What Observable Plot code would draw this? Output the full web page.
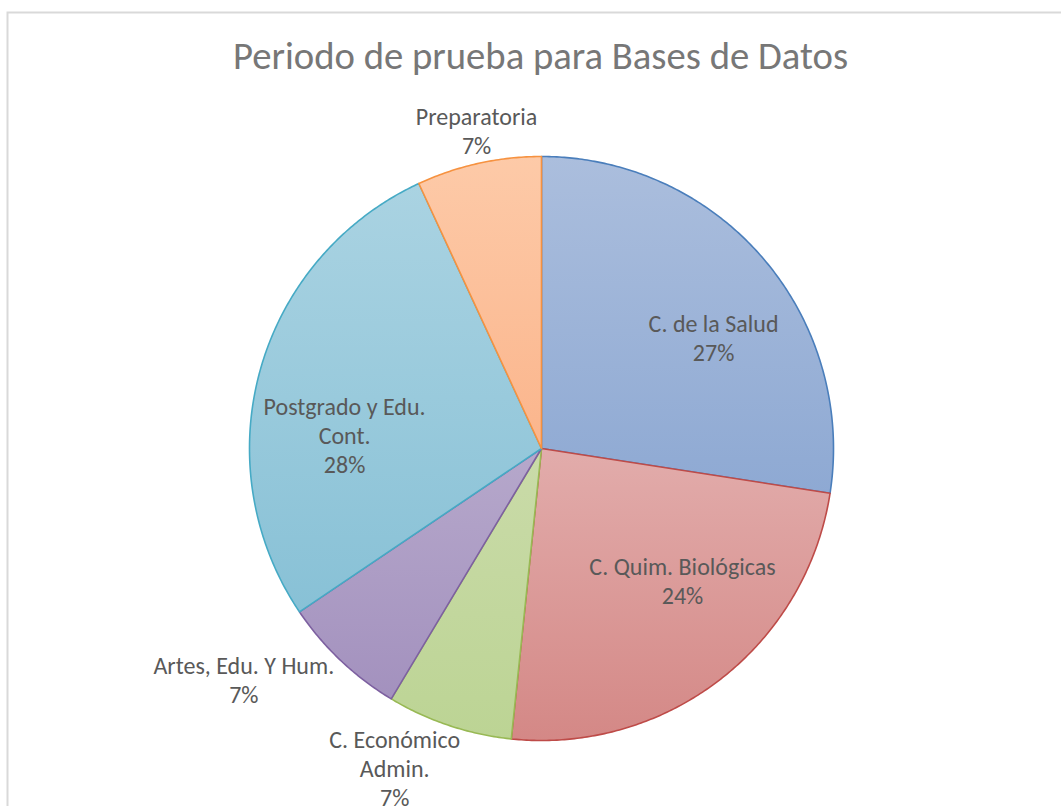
<!DOCTYPE html>
<html>
<head>
<meta charset="utf-8">
<script src="https://cdn.jsdelivr.net/npm/d3@7"></script>
<script src="https://cdn.jsdelivr.net/npm/@observablehq/plot@0.6"></script>
<style>
  html, body { margin: 0; padding: 0; background: #fff; overflow: hidden; }
  #chart { width: 1061px; height: 806px; overflow: hidden; }
  #chart svg { display: block; }
</style>
</head>
<body>
<div id="chart"></div>
<script>
// ---- data ----
const title = "Periodo de prueba para Bases de Datos";
const categories = ["C. de la Salud", "C. Quim. Biológicas", "C. Económico Admin.", "Artes, Edu. Y Hum.", "Postgrado y Edu. Cont.", "Preparatoria"];
const values = [27.45, 24.2, 6.95, 6.95, 27.55, 6.9];
const labelLines = ["C. de la Salud", "C. Quim. Biológicas", "C. Económico\nAdmin.", "Artes, Edu. Y Hum.", "Postgrado y Edu.\nCont.", "Preparatoria"];

// ---- styles / layout ----
const strokeColors = ["#4a7ebb", "#be4b48", "#98b954", "#7d60a0", "#46aac5", "#f69240"];
const gradTop = ["#abbedd", "#e2acab", "#cadba9", "#b6a8cb", "#aad3e2", "#fdcaa8"];
const gradBottom = ["#8ea9d3", "#d48886", "#bcd494", "#a391be", "#88c1d6", "#fbb58c"];
// label placement: [angle shift from slice mid-angle (deg), radius factor]
const labelPlacement = [[7.8, 0.701], [-9.3, 0.661], [6.25, 1.203], [8.8, 1.289], [-11.5, 0.676], [0.9, 1.113]];

const W = 1061, H = 806, cx = 541, cy = 448, R = 292;
const font = "Carlito, Calibri, Lato, sans-serif";

const total = d3.sum(values);
let acc = 0;
const slices = values.map((v, i) => {
  const a0 = acc / total * 2 * Math.PI;
  acc += v;
  const a1 = acc / total * 2 * Math.PI;
  return {i, category: categories[i], value: v, a0, a1, mid: (a0 + a1) / 2};
});

function slicePoints(s) {
  const n = Math.max(2, Math.ceil((s.a1 - s.a0) / (Math.PI / 360)));
  const pts = [{x: 0, y: 0}];
  for (let k = 0; k <= n; k++) {
    const a = s.a0 + (s.a1 - s.a0) * k / n;
    pts.push({x: Math.sin(a), y: Math.cos(a)});
  }
  return pts;
}

const fmt = d3.format(".0%");
const labels = slices.map(s => {
  const [shift, rf] = labelPlacement[s.i];
  const a = s.mid + shift * Math.PI / 180;
  return {x: rf * Math.sin(a), y: rf * Math.cos(a), text: labelLines[s.i] + "\n" + fmt(s.value / total)};
});

const plot = Plot.plot({
  width: W,
  height: H,
  margin: 0,
  x: {domain: [-cx / R, (W - cx) / R], axis: null},
  y: {domain: [(cy - H) / R, cy / R], axis: null},
  style: {fontFamily: font, background: "#fff", overflow: "hidden"},
  marks: [
    Plot.frame({stroke: "#d9d9d9", strokeWidth: 2, insetLeft: 7, insetTop: 12, insetRight: -4, insetBottom: -4}),
    ...slices.map(s => Plot.line(slicePoints(s), {
      x: "x", y: "y", curve: "linear-closed",
      fill: `url(#grad${s.i})`, stroke: strokeColors[s.i], strokeWidth: 1.6, strokeLinejoin: "round"
    })),
    Plot.text(labels, {x: "x", y: "y", text: "text", fontSize: 24, lineHeight: 1.21, fill: "#595959", textAnchor: "middle"}),
    Plot.text([title], {frameAnchor: "top", lineAnchor: "middle", dx: 9.5, dy: 56, fontSize: 38.7, fontWeight: 300, fill: "#777777"})
  ]
});

const defs = d3.select(plot).insert("defs", ":first-child");
slices.forEach(s => {
  const g = defs.append("linearGradient").attr("id", `grad${s.i}`)
    .attr("x1", 0).attr("y1", 0).attr("x2", 0).attr("y2", 1);
  g.append("stop").attr("offset", "0%").attr("stop-color", gradTop[s.i]);
  g.append("stop").attr("offset", "100%").attr("stop-color", gradBottom[s.i]);
});

document.getElementById("chart").appendChild(plot);
</script>
</body>
</html>
